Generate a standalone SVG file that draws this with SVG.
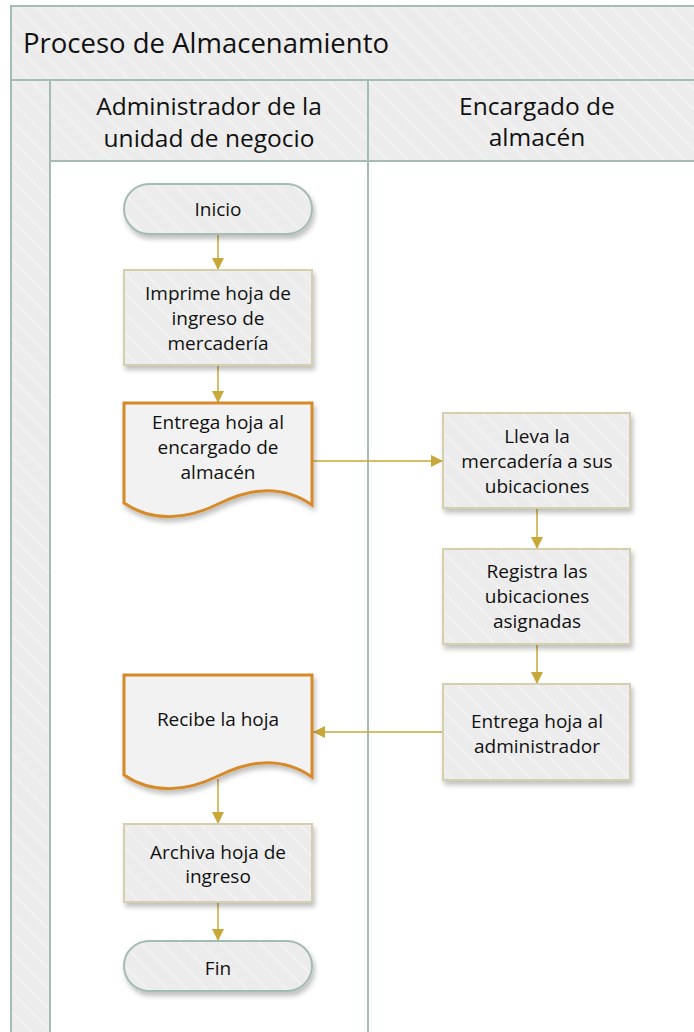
<svg xmlns="http://www.w3.org/2000/svg" width="694" height="1032" viewBox="0 0 694 1032">
<defs>
<pattern id="hatch" patternUnits="userSpaceOnUse" width="14" height="14" patternTransform="rotate(45)">
<rect width="14" height="14" fill="#ececec"/>
<line x1="0" y1="7" x2="14" y2="7" stroke="#f5f5f5" stroke-width="1.5"/>
</pattern>
<filter id="sh" x="-10%" y="-10%" width="130%" height="140%">
<feGaussianBlur in="SourceAlpha" stdDeviation="2.5"/>
<feOffset dx="2" dy="4" result="b"/>
<feComponentTransfer><feFuncA type="linear" slope="0.25"/></feComponentTransfer>
<feMerge><feMergeNode/><feMergeNode in="SourceGraphic"/></feMerge>
</filter>
<marker id="ah" markerWidth="12" markerHeight="12" refX="12" refY="6" orient="auto" markerUnits="userSpaceOnUse">
<path d="M0,0 L12,6 L0,12 Z" fill="#c9a83a"/>
</marker>
</defs>
<style>
.frame{fill:url(#hatch);stroke:#a3bcb5;stroke-width:2}
.lane{fill:#ffffff;stroke:#a3bcb5;stroke-width:2}
.proc{fill:url(#hatch);stroke:#d6cfae;stroke-width:2;filter:url(#sh)}
.term{fill:url(#hatch);stroke:#a3bcb5;stroke-width:2;filter:url(#sh)}
.doc{fill:#f2f2f2;stroke:#d68a2a;stroke-width:3;filter:url(#sh)}
.t{font-family:"Open Sans","Noto Sans","DejaVu Sans",sans-serif;font-size:19px;fill:#111;text-anchor:middle}
.h{font-family:"Open Sans","Noto Sans","DejaVu Sans",sans-serif;font-size:24.5px;fill:#111;text-anchor:middle}
.conn{fill:none;stroke:#c9a83a;stroke-width:1.5;marker-end:url(#ah)}
</style>
<g id="pool">
<rect class="frame" x="11" y="6" width="700" height="1040"/>
<rect class="lane" x="50" y="161" width="318" height="890"/>
<rect class="lane" x="368" y="161" width="340" height="890"/>
<rect class="frame" x="50" y="80" width="318" height="81"/>
<rect class="frame" x="368" y="80" width="340" height="81"/>
<line x1="11" y1="80" x2="694" y2="80" stroke="#a3bcb5" stroke-width="2"/>
<text x="23" y="53" font-family="Open Sans, Noto Sans, sans-serif" font-size="27.5" fill="#111">Proceso de Almacenamiento</text>
<text class="h" x="209" y="115">Administrador de la</text>
<text class="h" x="209" y="147">unidad de negocio</text>
<text class="h" x="537" y="115">Encargado de</text>
<text class="h" x="537" y="146">almacén</text>
</g>
<g id="connectors">
<line class="conn" x1="218" y1="234" x2="218" y2="270"/>
<line class="conn" x1="218" y1="365" x2="218" y2="403"/>
<line class="conn" x1="312" y1="461" x2="443" y2="461"/>
<line class="conn" x1="537" y1="508" x2="537" y2="549"/>
<line class="conn" x1="537" y1="644" x2="537" y2="684"/>
<line class="conn" x1="443" y1="732" x2="313" y2="732"/>
<line class="conn" x1="218" y1="779" x2="218" y2="824"/>
<line class="conn" x1="218" y1="902" x2="218" y2="941"/>
</g>
<g id="inicio">
<rect class="term" x="124" y="184" width="188" height="50" rx="25"/>
<text class="t" x="218" y="216">Inicio</text>
</g>
<g id="imprime">
<rect class="proc" x="124" y="270" width="188" height="95"/>
<text class="t" x="218" y="300">Imprime hoja de</text>
<text class="t" x="218" y="325">ingreso de</text>
<text class="t" x="218" y="350">mercadería</text>
</g>
<g id="entrega1">
<path class="doc" d="M124,403 H312 V505 C282,484 250,488 218,504 C186,520 152,522 124,503 Z"/>
<text class="t" x="218" y="429">Entrega hoja al</text>
<text class="t" x="218" y="454">encargado de</text>
<text class="t" x="218" y="479">almacén</text>
</g>
<g id="lleva">
<rect class="proc" x="443" y="413" width="187" height="95"/>
<text class="t" x="537" y="443">Lleva la</text>
<text class="t" x="537" y="468">mercadería a sus</text>
<text class="t" x="537" y="493">ubicaciones</text>
</g>
<g id="registra">
<rect class="proc" x="443" y="549" width="187" height="95"/>
<text class="t" x="537" y="578">Registra las</text>
<text class="t" x="537" y="603">ubicaciones</text>
<text class="t" x="537" y="628">asignadas</text>
</g>
<g id="entrega2">
<rect class="proc" x="443" y="684" width="187" height="96"/>
<text class="t" x="537" y="728">Entrega hoja al</text>
<text class="t" x="537" y="753">administrador</text>
</g>
<g id="recibe">
<path class="doc" d="M124,675 H312 V777 C282,756 250,760 218,776 C186,792 152,794 124,775 Z"/>
<text class="t" x="218" y="726">Recibe la hoja</text>
</g>
<g id="archiva">
<rect class="proc" x="124" y="824" width="188" height="78"/>
<text class="t" x="218" y="859">Archiva hoja de</text>
<text class="t" x="218" y="883">ingreso</text>
</g>
<g id="fin">
<rect class="term" x="124" y="941" width="188" height="50" rx="25"/>
<text class="t" x="218" y="975">Fin</text>
</g>
</svg>
